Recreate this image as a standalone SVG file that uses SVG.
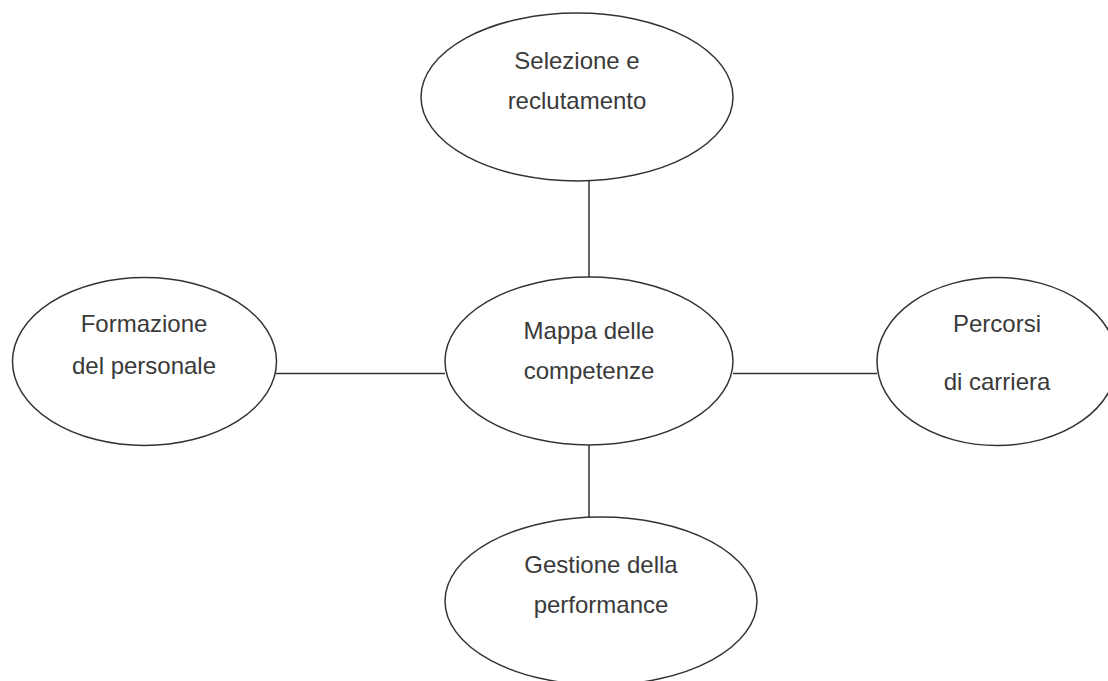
<svg xmlns="http://www.w3.org/2000/svg" width="1108" height="681" viewBox="0 0 1108 681">
<style>
.n{fill:#fff;stroke:#333;stroke-width:1.5}
.c{stroke:#333;stroke-width:1.5;fill:none}
text{font-family:"Liberation Sans",Arial,sans-serif;font-size:24px;fill:#3a3a3a;text-anchor:middle}
</style>
<rect width="1108" height="681" fill="#fff"/>
<g id="connectors">
<line class="c" x1="589" y1="181" x2="589" y2="277"/>
<line class="c" x1="589" y1="445" x2="589" y2="517"/>
<line class="c" x1="276" y1="373.5" x2="445" y2="373.5"/>
<line class="c" x1="733" y1="373.5" x2="877" y2="373.5"/>
</g>
<g id="top">
<ellipse class="n" cx="577" cy="97" rx="156" ry="84"/>
<text x="577" y="69">Selezione e</text>
<text x="577" y="109">reclutamento</text>
</g>
<g id="center">
<ellipse class="n" cx="589" cy="361" rx="144" ry="84"/>
<text x="589" y="339">Mappa delle</text>
<text x="589" y="379">competenze</text>
</g>
<g id="left">
<ellipse class="n" cx="144.5" cy="361.5" rx="132" ry="84"/>
<text x="144" y="332">Formazione</text>
<text x="144" y="374">del personale</text>
</g>
<g id="right">
<ellipse class="n" cx="997" cy="361.5" rx="120" ry="84"/>
<text x="997" y="332">Percorsi</text>
<text x="997" y="390">di carriera</text>
</g>
<g id="bottom">
<ellipse class="n" cx="601" cy="601" rx="156" ry="84"/>
<text x="601" y="573">Gestione della</text>
<text x="601" y="613">performance</text>
</g>
</svg>
